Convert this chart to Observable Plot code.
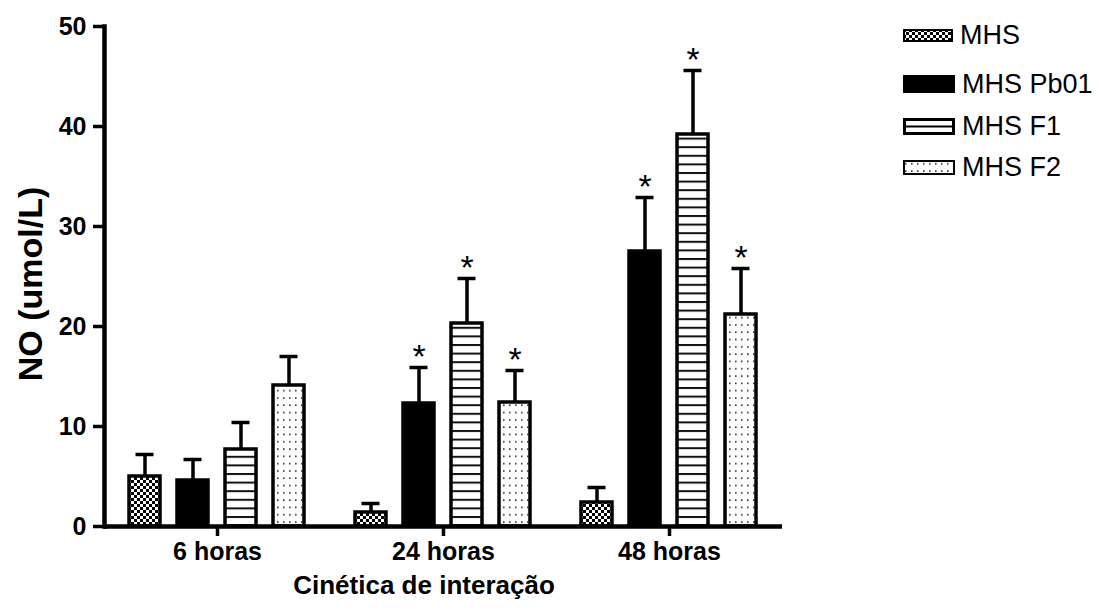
<!DOCTYPE html>
<html>
<head>
<meta charset="utf-8">
<script src="https://cdn.jsdelivr.net/npm/d3@7"></script>
<script src="https://cdn.jsdelivr.net/npm/@observablehq/plot@0.6"></script>
<style>
  html, body { margin: 0; padding: 0; background: #fff; }
  body { width: 1101px; height: 610px; position: relative; overflow: hidden; font-family: "Liberation Sans", Arial, sans-serif; }
  #chart { position: absolute; left: 0; top: 0; }
  .ylab { position: absolute; left: 30px; top: 284px; transform: translate(-50%, -50%) rotate(-90deg); font-weight: bold; font-size: 34px; white-space: nowrap; color: #000; }
  .xlab { position: absolute; left: 424px; top: 585px; transform: translate(-50%, -50%); font-weight: bold; font-size: 26px; white-space: nowrap; color: #000; }
  .legend { position: absolute; left: 903px; top: 0; }
  .legend .row { position: absolute; left: 0; display: flex; align-items: center; white-space: nowrap; font-size: 27px; color: #000; }
  .legend svg { display: block; margin-right: 7px; }
</style>
</head>
<body>
<svg width="0" height="0" style="position:absolute">
  <defs>
    <pattern id="pChk" width="6" height="6" patternUnits="userSpaceOnUse">
      <rect width="6" height="6" fill="#fff"/>
      <rect x="0" y="0" width="3" height="3" fill="#000"/>
      <rect x="3" y="3" width="3" height="3" fill="#000"/>
    </pattern>
    <pattern id="pHor" width="8" height="8.6" patternUnits="userSpaceOnUse">
      <rect width="8" height="8.6" fill="#fff"/>
      <rect x="0" y="0" width="8" height="2" fill="#111"/>
    </pattern>
    <pattern id="pDot" width="6" height="7.3" patternUnits="userSpaceOnUse">
      <rect width="6" height="7.3" fill="#fff"/>
      <rect x="2" y="3" width="1.6" height="1.6" fill="#333"/>
    </pattern>
  </defs>
</svg>
<div id="chart"></div>
<div class="ylab">NO (umol/L)</div>
<div class="xlab">Cinética de interação</div>
<div class="legend" id="legend"></div>
<script>
// ---- data ----
const groups = ["6 horas", "24 horas", "48 horas"];
const series = ["MHS", "MHS Pb01", "MHS F1", "MHS F2"];
const yTicks = [0, 10, 20, 30, 40, 50];

const mhs     = [5.0, 1.4, 2.4];
const mhsPb01 = [4.6, 12.3, 27.5];
const mhsF1   = [7.7, 20.3, 39.2];
const mhsF2   = [14.1, 12.4, 21.2];

const mhsErr     = [2.2, 0.9, 1.5];
const mhsPb01Err = [2.1, 3.6, 5.4];
const mhsF1Err   = [2.7, 4.5, 6.4];
const mhsF2Err   = [2.9, 3.2, 4.6];

const mhsSig     = [false, false, false];
const mhsPb01Sig = [false, true, true];
const mhsF1Sig   = [false, true, true];
const mhsF2Sig   = [false, true, true];

const fills = ["url(#pChk)", "#000", "url(#pHor)", "url(#pDot)"];

// ---- table ----
const valueSets = [mhs, mhsPb01, mhsF1, mhsF2];
const errSets = [mhsErr, mhsPb01Err, mhsF1Err, mhsF2Err];
const sigSets = [mhsSig, mhsPb01Sig, mhsF1Sig, mhsF2Sig];
const rows = [];
groups.forEach((g, gi) => {
  series.forEach((s, si) => {
    rows.push({group: g, series: s, value: valueSets[si][gi], err: errSets[si][gi], sig: sigSets[si][gi]});
  });
});
const errTop = d => d.value + d.err;

const plot = Plot.plot({
  width: 1101,
  height: 610,
  marginLeft: 104,
  marginRight: 319,
  marginTop: 26,
  marginBottom: 84,
  style: {fontFamily: "'Liberation Sans', Arial, sans-serif", color: "#000", background: "transparent", overflow: "visible"},
  fx: {domain: groups, paddingInner: 0.15, paddingOuter: 0.075, label: null},
  x: {domain: series, paddingInner: 0.354, paddingOuter: 0.177, axis: null},
  y: {domain: [0, 50], axis: null},
  color: {domain: series, range: fills},
  marks: [
    Plot.barY(rows, {fx: "group", x: "series", y: "value", fill: "series", stroke: "#000", strokeWidth: 3.5}),
    Plot.ruleX(rows, {fx: "group", x: "series", y1: "value", y2: errTop, stroke: "#000", strokeWidth: 3.5}),
    Plot.tickY(rows, {fx: "group", x: "series", y: errTop, stroke: "#000", strokeWidth: 3.5, insetLeft: 6.5, insetRight: 6.5}),
    Plot.text(rows.filter(d => d.sig), {fx: "group", x: "series", y: errTop, text: () => "*", fontSize: 34, dy: -10, fill: "#000"}),
    Plot.ruleY([0], {stroke: "#000", strokeWidth: 4.5, insetLeft: -17, insetRight: -17}),
    Plot.frame({anchor: "left", facetAnchor: "left", stroke: "#000", strokeWidth: 4.5, dx: -17}),
    Plot.axisY({ticks: yTicks, tickSize: 11, tickPadding: 7, strokeWidth: 3.5, fontSize: 25, fontWeight: "bold", label: null, dx: -17, facetAnchor: "left", tickFormat: d => String(d)}),
    Plot.axisFx({anchor: "bottom", tickSize: 10, tickPadding: 6, strokeWidth: 3.5, fontSize: 25, fontWeight: "bold", label: null})
  ]
});
document.getElementById("chart").appendChild(plot);

// ---- legend ----
const legendRows = [
  {label: series[0], fill: fills[0], y: 29, w: 50, h: 13, sw: 2},
  {label: series[1], fill: fills[1], y: 75, w: 52, h: 18, sw: 0},
  {label: series[2], fill: "#fff", y: 118, w: 52, h: 17, sw: 3, mid: true},
  {label: series[3], fill: fills[3], y: 160, w: 52, h: 15, sw: 2}
];
const leg = document.getElementById("legend");
legendRows.forEach(r => {
  const row = document.createElement("div");
  row.className = "row";
  row.style.top = (r.y + r.h / 2 - 16) + "px";
  row.style.height = "32px";
  const sv = d3.create("svg").attr("width", r.w).attr("height", r.h);
  sv.append("rect").attr("x", r.sw / 2).attr("y", r.sw / 2)
    .attr("width", r.w - r.sw).attr("height", r.h - r.sw)
    .attr("fill", r.fill).attr("stroke", "#000").attr("stroke-width", r.sw);
  if (r.mid) sv.append("line").attr("x1", 0).attr("x2", r.w).attr("y1", r.h / 2).attr("y2", r.h / 2).attr("stroke", "#000").attr("stroke-width", 2);
  row.appendChild(sv.node());
  const t = document.createElement("span");
  t.textContent = r.label;
  row.appendChild(t);
  leg.appendChild(row);
});
</script>
</body>
</html>
